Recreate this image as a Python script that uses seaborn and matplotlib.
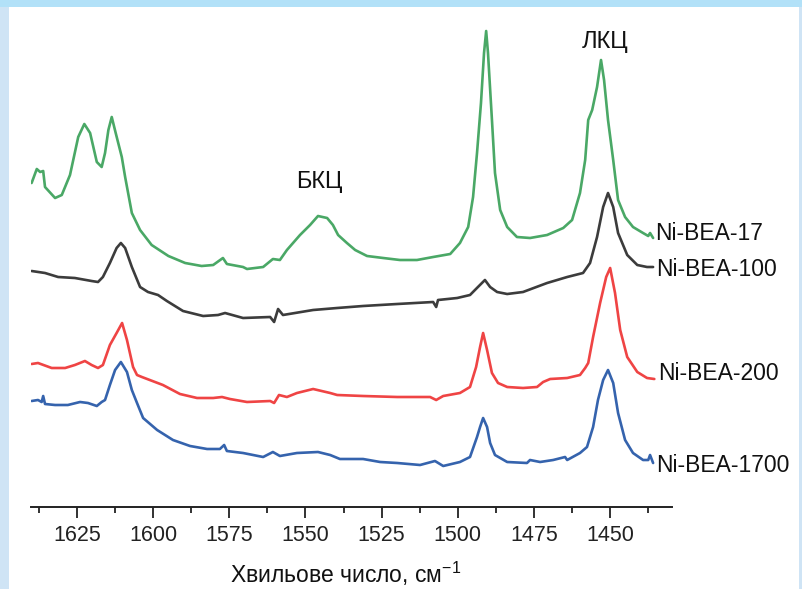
import matplotlib
matplotlib.use("Agg")
import matplotlib.pyplot as plt
from matplotlib.patches import Rectangle
import seaborn as sns
import pandas as pd

# wavenumber (cm-1) and stacked intensity (a.u.) for each sample
wn_17 = [1639.9, 1638.2, 1637.1, 1636.1, 1635.5, 1632.2, 1630.0, 1627.3, 1624.6, 1622.6,
         1620.7, 1618.5, 1616.9, 1615.8, 1614.7, 1613.6, 1612.3, 1610.3, 1609.2, 1607.0,
         1604.3, 1600.5, 1595.0, 1589.5, 1584.1, 1580.3, 1577.1, 1575.8, 1570.5, 1569.2,
         1563.9, 1560.7, 1558.4, 1556.1, 1551.8, 1548.5, 1545.9, 1542.9, 1541.0, 1539.3,
         1536.4, 1533.7, 1529.8, 1524.5, 1519.0, 1513.4, 1508.1, 1502.5, 1499.3, 1496.6,
         1495.0, 1493.7, 1492.4, 1491.4, 1490.7, 1490.1, 1488.8, 1487.8, 1486.1, 1483.8,
         1480.6, 1476.3, 1470.7, 1465.4, 1462.5, 1459.9, 1458.2, 1457.2, 1455.9, 1454.3,
         1453.0, 1452.0, 1450.7, 1449.0, 1447.4, 1445.1, 1442.5, 1439.2, 1437.5, 1436.9,
         1435.9]
int_17 = [324, 338, 335, 336, 320, 309, 312, 332, 370, 383,
          374, 345, 340, 354, 377, 390, 374, 350, 330, 294,
          277, 262, 251, 244, 241, 242, 249, 243, 240, 238,
          240, 248, 247, 257, 272, 282, 291, 289, 282, 272,
          264, 257, 251, 249, 247, 247, 250, 253, 264, 280,
          310, 354, 404, 454, 476, 454, 387, 334, 297, 280,
          270, 269, 272, 279, 287, 314, 347, 387, 397, 420,
          447, 427, 387, 347, 307, 290, 280, 274, 271, 274,
          269]

wn_100 = [1639.9, 1635.5, 1631.2, 1625.7, 1620.2, 1618.1, 1616.5, 1614.2, 1612.0, 1610.6,
          1609.2, 1607.0, 1604.3, 1601.7, 1598.4, 1595.5, 1590.2, 1583.6, 1578.7, 1576.4,
          1570.5, 1561.6, 1560.3, 1559.0, 1557.4, 1547.5, 1539.6, 1531.1, 1519.9, 1508.1,
          1507.1, 1506.5, 1500.2, 1496.0, 1493.4, 1491.1, 1489.4, 1487.1, 1483.8, 1478.6,
          1470.7, 1464.1, 1458.9, 1456.6, 1454.3, 1452.3, 1450.7, 1449.0, 1447.4, 1444.4,
          1441.1, 1437.9, 1435.9]
int_100 = [236, 234, 230, 229, 226, 225, 230, 244, 259, 264,
           259, 240, 220, 215, 212, 206, 196, 191, 192, 194,
           189, 190, 185, 198, 192, 197, 199, 201, 203, 205,
           200, 207, 209, 212, 220, 227, 220, 215, 213, 215,
           224, 230, 234, 244, 270, 300, 314, 300, 274, 252,
           242, 240, 240]

wn_200 = [1639.9, 1637.8, 1633.3, 1628.9, 1625.7, 1622.4, 1620.2, 1618.1, 1616.5, 1614.2,
          1612.0, 1610.2, 1608.6, 1606.6, 1605.3, 1603.7, 1596.8, 1591.2, 1585.6, 1580.3,
          1577.4, 1574.8, 1569.2, 1561.6, 1560.3, 1558.7, 1556.1, 1552.8, 1547.5, 1541.9,
          1539.6, 1531.1, 1519.9, 1509.1, 1507.1, 1504.8, 1499.3, 1496.0, 1494.0, 1492.7,
          1491.7, 1490.4, 1488.8, 1486.8, 1483.8, 1478.6, 1474.0, 1472.0, 1469.7, 1464.1,
          1459.9, 1458.2, 1457.2, 1455.6, 1453.3, 1451.3, 1450.0, 1448.4, 1446.7, 1444.4,
          1441.1, 1437.9, 1435.5]
int_200 = [143, 144, 139, 139, 142, 146, 142, 139, 142, 162,
           174, 184, 167, 140, 132, 130, 122, 113, 109, 109,
           110, 108, 105, 106, 104, 112, 110, 114, 118, 114,
           112, 111, 110, 110, 107, 111, 114, 120, 140, 160,
           174, 157, 134, 124, 120, 119, 120, 125, 128, 129,
           132, 139, 144, 170, 204, 230, 239, 214, 177, 150,
           135, 129, 128]

wn_1700 = [1639.9, 1637.8, 1636.6, 1636.1, 1635.5, 1632.2, 1628.0, 1624.0, 1621.4, 1618.5,
           1616.9, 1615.8, 1614.2, 1612.5, 1610.6, 1608.6, 1607.0, 1605.3, 1603.3, 1598.7,
           1593.5, 1587.9, 1582.3, 1578.1, 1576.7, 1575.8, 1570.5, 1563.9, 1560.7, 1558.4,
           1552.8, 1545.9, 1541.9, 1538.7, 1531.1, 1525.5, 1519.9, 1512.4, 1507.5, 1504.8,
           1499.3, 1496.0, 1493.7, 1492.7, 1491.7, 1490.4, 1489.4, 1487.8, 1483.8, 1477.3,
           1476.3, 1473.0, 1468.7, 1464.8, 1464.1, 1459.9, 1457.6, 1455.6, 1454.0, 1452.3,
           1450.7, 1449.0, 1447.4, 1445.1, 1442.5, 1439.2, 1437.5, 1436.9, 1435.9]
int_1700 = [106, 107, 105, 111, 103, 102, 102, 105, 104, 101,
            105, 107, 122, 137, 145, 135, 117, 104, 89, 77,
            67, 61, 58, 58, 62, 56, 54, 50, 55, 51,
            54, 55, 52, 48, 48, 45, 44, 42, 46, 41,
            45, 50, 70, 80, 89, 80, 64, 52, 45, 44,
            47, 45, 47, 50, 47, 54, 60, 80, 107, 127,
            137, 124, 94, 67, 54, 47, 47, 52, 44]

samples = ["Ni-BEA-17", "Ni-BEA-100", "Ni-BEA-200", "Ni-BEA-1700"]
colors = ["#4aa866", "#3c3c3c", "#ef4444", "#3563ad"]

frames = []
for name, wn, val in zip(samples, [wn_17, wn_100, wn_200, wn_1700],
                         [int_17, int_100, int_200, int_1700]):
    frames.append(pd.DataFrame({"wn": wn, "a": val, "sample": name}))
df = pd.concat(frames, ignore_index=True)

sns.set_style("white")
plt.rcParams["font.family"] = ["Liberation Sans", "DejaVu Sans"]
plt.rcParams["mathtext.fontset"] = "custom"
plt.rcParams["mathtext.rm"] = "Liberation Sans"
plt.rcParams["mathtext.it"] = "Liberation Sans"

fig = plt.figure(figsize=(8.02, 5.89), dpi=100)
fig.patch.set_facecolor("#cfe4f5")
fig.patches.append(Rectangle((0, 582 / 589), 1, 7 / 589, transform=fig.transFigure,
                             facecolor="#b2e1f8", edgecolor="none", zorder=-2))
fig.patches.append(Rectangle((9 / 802, 0), 790 / 802, 582 / 589, transform=fig.transFigure,
                             facecolor="white", edgecolor="none", zorder=-1))

ax = fig.add_axes([31 / 802, 82 / 589, 641 / 802, 500 / 589])
ax.set_facecolor("none")
sns.lineplot(data=df, x="wn", y="a", hue="sample", hue_order=samples,
             palette=dict(zip(samples, colors)), estimator=None, linewidth=1.9,
             legend=False, ax=ax)

ax.set_xlim(1640.1, 1429.7)
ax.set_ylim(0, 500)
for s in ["left", "top", "right"]:
    ax.spines[s].set_visible(False)
ax.spines["bottom"].set_linewidth(1.4)
ax.spines["bottom"].set_color("#222222")
ax.set_yticks([])
ax.set_xticks([1625, 1600, 1575, 1550, 1525, 1500, 1475, 1450])
ax.set_xticks([1637.5, 1612.5, 1587.5, 1562.5, 1537.5, 1512.5, 1487.5, 1462.5, 1437.5], minor=True)
ax.tick_params(axis="x", which="major", direction="out", length=8, width=1.3,
               colors="#222222", labelsize=15.5, pad=5, bottom=True)
ax.tick_params(axis="x", which="minor", direction="out", length=4.5, width=1.3,
               colors="#222222", bottom=True)
ax.set_xlabel("")
ax.set_ylabel("")

label_pos = [(1435.2, 274), (1435.0, 237), (1434.2, 134), (1435.0, 41)]
for name, (x, y) in zip(samples, label_pos):
    ax.text(x, y, name, fontsize=16.5, color="#111111", ha="left", va="center", clip_on=False)

ax.text(1545.5, 325, "БКЦ", fontsize=17, color="#111111", ha="center", va="center")
ax.text(1451.5, 465, "ЛКЦ", fontsize=17, color="#111111", ha="center", va="center")

fig.text(346 / 802, 6 / 589, "Хвильове число, см$^{-1}$", fontsize=16.5, color="#111111",
         ha="center", va="baseline")

fig.savefig("out.png", dpi=100, facecolor=fig.get_facecolor())
